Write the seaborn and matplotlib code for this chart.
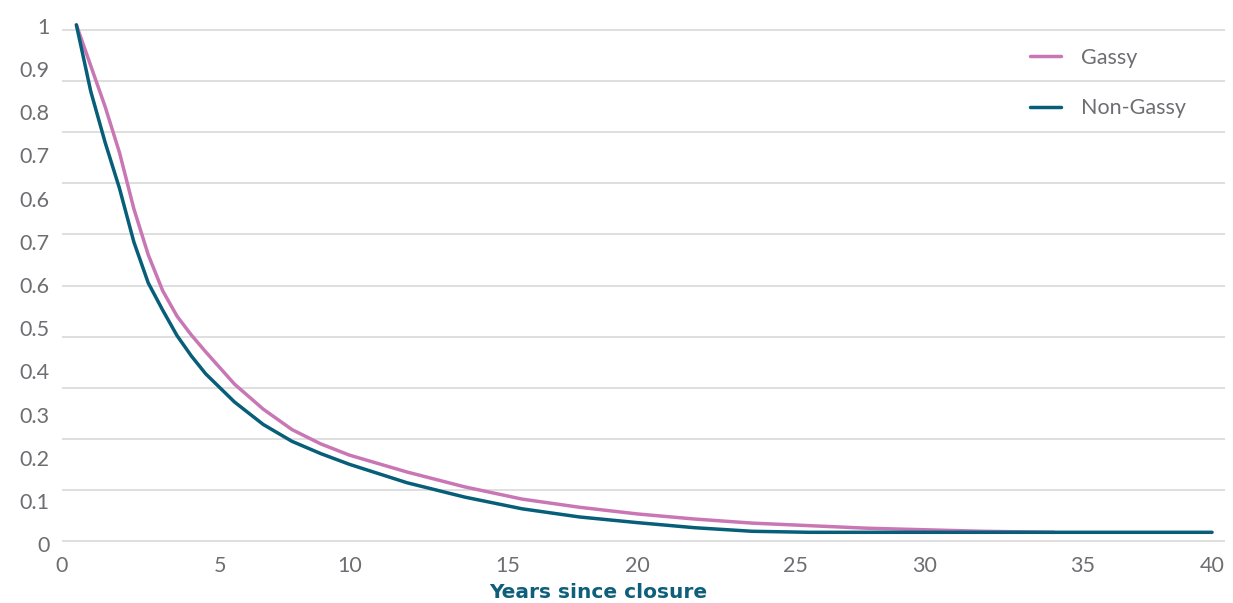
import numpy as np
import pandas as pd
import matplotlib
matplotlib.use("Agg")
import matplotlib.pyplot as plt
import seaborn as sns

# ---- data ----
gassy_years = [0.5, 1, 1.5, 2, 2.5, 3, 3.5, 4, 4.5, 5, 6, 7, 8, 9, 10, 12, 14, 16,
               18, 20, 22, 24, 26, 28, 30, 32, 34.5]
gassy_values = [1.01, 0.93, 0.85, 0.76, 0.65, 0.56, 0.49, 0.44, 0.403, 0.37, 0.307,
                0.258, 0.218, 0.19, 0.168, 0.135, 0.106, 0.082, 0.066, 0.053, 0.043,
                0.035, 0.030, 0.025, 0.022, 0.019, 0.017]

nongassy_years = [0.5, 1, 1.5, 2, 2.5, 3, 3.5, 4, 4.5, 5, 6, 7, 8, 9, 10, 12, 14, 16,
                  18, 20, 22, 24, 26, 28, 30, 32, 34, 36, 38, 40]
nongassy_values = [1.01, 0.88, 0.78, 0.69, 0.585, 0.505, 0.452, 0.402, 0.362, 0.327,
                   0.272, 0.228, 0.195, 0.171, 0.15, 0.114, 0.086, 0.063, 0.047, 0.036,
                   0.026, 0.019, 0.017, 0.017, 0.017, 0.017, 0.017, 0.017, 0.017, 0.017]

series_names = ["Gassy", "Non-Gassy"]
x_tick_values = [0, 5, 10, 15, 20, 25, 30, 35, 40]
# y tick labels exactly as printed in the source chart (bottom to top)
y_tick_labels = ["0", "0.1", "0.2", "0.3", "0.4", "0.5", "0.6", "0.7",
                 "0.6", "0.7", "0.8", "0.9", "1"]
grid_values = [0, 0.1, 0.2, 0.3, 0.4, 0.5, 0.6, 0.7, 0.8, 0.9, 1.0]
x_label = "Years since closure"

# ---- styling ----
PINK = "#c977b4"
TEAL = "#075e78"
GREY_TXT = "#6d6e71"
GRID = "#d9d9d9"

df = pd.concat([
    pd.DataFrame({"year": gassy_years, "value": gassy_values, "series": series_names[0]}),
    pd.DataFrame({"year": nongassy_years, "value": nongassy_values, "series": series_names[1]}),
])

sns.set_theme(style="white")
plt.rcParams["font.family"] = ["Lato", "DejaVu Sans"]

fig = plt.figure(figsize=(12.33, 6.03), dpi=100)
ax = fig.add_axes([62 / 1233, (603 - 546) / 603, (1225 - 62) / 1233, (546 - 20) / 603])

sns.lineplot(data=df, x="year", y="value", hue="series", palette=[PINK, TEAL],
             linewidth=2.5, ax=ax, legend=True)

ax.set_xlim(0, 40.45)
ax.set_ylim(-0.0098, 1.0196)

# gridlines at true values (minor ticks), labels as printed (major ticks)
ax.set_yticks(grid_values, minor=True)
ax.yaxis.grid(True, which="minor", color=GRID, linewidth=1.2)
ax.yaxis.grid(False, which="major")
ax.xaxis.grid(False)
ax.set_axisbelow(True)
ax.set_yticks(np.linspace(-0.006, 1.008, len(y_tick_labels)))
ax.set_yticklabels(y_tick_labels)

x_pos = [v + (0.5 if v % 10 == 5 else 0) for v in x_tick_values]
ax.set_xticks(x_pos)
ax.set_xticklabels([str(v) for v in x_tick_values])

ax.tick_params(axis="both", which="both", length=0, labelsize=15.5,
               labelcolor=GREY_TXT)
ax.tick_params(axis="y", pad=9)
ax.tick_params(axis="x", pad=7)

for s in ax.spines.values():
    s.set_visible(False)

ax.set_ylabel("")
ax.set_xlabel(x_label, fontsize=14.5, fontweight="bold", color="#0f5f7b",
              family=["DejaVu Sans"])
ax.xaxis.set_label_coords((598 - 62) / (1225 - 62), -(583 - 546) / 526)

handles, labels = ax.get_legend_handles_labels()
leg = ax.legend(handles, labels, loc="upper left",
                bbox_to_anchor=(1030 / 1233, 1 - 48 / 603),
                bbox_transform=fig.transFigure, frameon=False, fontsize=15.5,
                handlelength=1.45, handletextpad=0.9, labelspacing=1.4,
                borderpad=0, borderaxespad=0)
for t in leg.get_texts():
    t.set_color(GREY_TXT)
for h in leg.get_lines():
    h.set_linewidth(2.5)

fig.savefig("out.png", dpi=100)
